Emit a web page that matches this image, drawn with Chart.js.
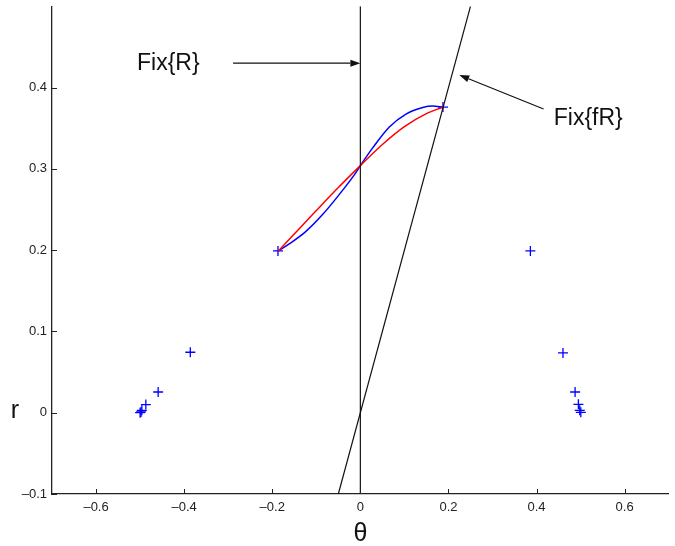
<!DOCTYPE html>
<html>
<head>
<meta charset="utf-8">
<script src="https://cdn.jsdelivr.net/npm/chart.js@4/dist/chart.umd.min.js"></script>
<style>
html,body{margin:0;padding:0;background:#fff;}
#c{display:block;}
</style>
</head>
<body>
<canvas id="c" width="675" height="546"></canvas>
<script>
// ---- data ----
const X_TICKS = [-0.6, -0.4, -0.2, 0, 0.2, 0.4, 0.6];
const Y_TICKS = [-0.1, 0, 0.1, 0.2, 0.3, 0.4];

const PLUS_THETA = [-0.187, -0.386, -0.459, -0.487, -0.496, -0.500, -0.498,
                    0.1875, 0.386, 0.460, 0.4875, 0.495, 0.498, 0.5005];
const PLUS_R     = [0.199, 0.0744, 0.0255, 0.010, 0.003, 0.000, 0.001,
                    0.376, 0.199, 0.0735, 0.0255, 0.0103, 0.003, 0.0005];

const RED_THETA = [-0.186, -0.15, -0.1, -0.05, 0, 0.05, 0.1, 0.15, 0.188];
const RED_R     = [0.199, 0.2199, 0.2487, 0.277, 0.304, 0.330, 0.352, 0.368, 0.376];

const BLUE_THETA = [-0.186, -0.1624, -0.1247, -0.0868, -0.049, -0.0113, 0, 0.028, 0.0658, 0.1036, 0.1415, 0.164, 0.188];
const BLUE_R     = [0.199, 0.2074, 0.2225, 0.2431, 0.2677, 0.2945, 0.304, 0.3258, 0.3515, 0.3674, 0.3754, 0.3772, 0.376];

const FIX_R_THETA  = [0, 0];
const FIX_R_R      = [-0.1, 0.5];
const FIX_FR_THETA = [-0.05, 0.25];
const FIX_FR_R     = [-0.1, 0.5];

const X_TITLE = 'θ';
const Y_TITLE = 'r';

// annotation labels (data-space anchors)
const NOTES = [
  { text: 'Fix{R}',  tx: -0.507, ty: 0.429, from: [-0.289, 0.430], to: [0.0, 0.430] },
  { text: 'Fix{fR}', tx: 0.439,  ty: 0.362, from: [0.416, 0.3736], to: [0.2245, 0.4155] }
];

const pts = (xs, ys) => xs.map((x, i) => ({ x: x, y: ys[i] }));

const FONT = "'Liberation Sans', Arial, Helvetica, sans-serif";
const AX = '#222';

const overlay = {
  id: 'overlay',
  afterDraw(chart) {
    const ctx = chart.ctx;
    const xs = chart.scales.x, ys = chart.scales.y;
    const a = chart.chartArea;
    ctx.save();
    // inward ticks
    ctx.strokeStyle = AX; ctx.lineWidth = 1;
    ctx.beginPath();
    X_TICKS.forEach(v => {
      const px = Math.round(xs.getPixelForValue(v)) + 0.5;
      ctx.moveTo(px, a.bottom); ctx.lineTo(px, a.bottom - 5);
    });
    Y_TICKS.forEach(v => {
      const py = Math.round(ys.getPixelForValue(v)) + 0.5;
      ctx.moveTo(a.left, py); ctx.lineTo(a.left + 5, py);
    });
    ctx.stroke();
    // axis titles
    ctx.fillStyle = '#111';
    ctx.font = '25px ' + FONT;
    ctx.textAlign = 'center'; ctx.textBaseline = 'middle';
    ctx.fillText(Y_TITLE, 15, ys.getPixelForValue(0) - 2);
    ctx.fillText(X_TITLE, xs.getPixelForValue(0), 534);
    // annotations
    ctx.font = '23px ' + FONT;
    ctx.textAlign = 'left';
    NOTES.forEach(n => {
      ctx.fillStyle = '#111';
      ctx.fillText(n.text, xs.getPixelForValue(n.tx), ys.getPixelForValue(n.ty));
      const x1 = xs.getPixelForValue(n.from[0]), y1 = ys.getPixelForValue(n.from[1]);
      const x2 = xs.getPixelForValue(n.to[0]),   y2 = ys.getPixelForValue(n.to[1]);
      const ang = Math.atan2(y2 - y1, x2 - x1);
      const L = 10, W = 3.5;
      ctx.strokeStyle = '#111'; ctx.lineWidth = 1.2;
      ctx.beginPath();
      ctx.moveTo(x1, y1);
      ctx.lineTo(x2 - L * Math.cos(ang), y2 - L * Math.sin(ang));
      ctx.stroke();
      ctx.beginPath();
      ctx.moveTo(x2, y2);
      ctx.lineTo(x2 - L * Math.cos(ang) + W * Math.sin(ang), y2 - L * Math.sin(ang) - W * Math.cos(ang));
      ctx.lineTo(x2 - L * Math.cos(ang) - W * Math.sin(ang), y2 - L * Math.sin(ang) + W * Math.cos(ang));
      ctx.closePath();
      ctx.fill();
    });
    ctx.restore();
  }
};

const fmt = v => {
  const s = (Math.round(v * 10) / 10).toString();
  return s.replace('-', '\u2013');
};

new Chart(document.getElementById('c'), {
  type: 'scatter',
  data: {
    datasets: [
      { label: 'Fix{R}', data: pts(FIX_R_THETA, FIX_R_R), showLine: true, borderColor: '#111', borderWidth: 1.2, pointRadius: 0, fill: false },
      { label: 'Fix{fR}', data: pts(FIX_FR_THETA, FIX_FR_R), showLine: true, borderColor: '#111', borderWidth: 1.2, pointRadius: 0, fill: false },
      { label: 'red', data: pts(RED_THETA, RED_R), showLine: true, borderColor: '#ff0000', borderWidth: 1.5, pointRadius: 0, cubicInterpolationMode: 'monotone', fill: false },
      { label: 'blue', data: pts(BLUE_THETA, BLUE_R), showLine: true, borderColor: '#0000ff', borderWidth: 1.5, pointRadius: 0, cubicInterpolationMode: 'monotone', fill: false },
      { label: 'points', data: pts(PLUS_THETA, PLUS_R), showLine: false, pointStyle: 'cross', pointRadius: 5, pointBorderColor: '#0000ff', pointBorderWidth: 1.3, borderColor: '#0000ff' }
    ]
  },
  options: {
    responsive: false,
    animation: false,
    layout: { padding: { top: 0, right: 6, left: 0, bottom: 0 } },
    plugins: { legend: { display: false }, tooltip: { enabled: false } },
    scales: {
      x: {
        type: 'linear', min: -0.7, max: 0.7,
        afterFit: s => { s.height = 52; },
        afterBuildTicks: s => { s.ticks = X_TICKS.map(v => ({ value: v })); },
        grid: { display: false, drawTicks: false },
        border: { display: true, color: AX, width: 1.3 },
        ticks: { callback: v => fmt(v), color: '#222', padding: 6, font: { family: FONT, size: 13 }, maxRotation: 0, autoSkip: false }
      },
      y: {
        type: 'linear', min: -0.1, max: 0.5,
        afterFit: s => { s.width = 52; s.paddingTop = 0; },
        afterBuildTicks: s => { s.ticks = Y_TICKS.map(v => ({ value: v })); },
        grid: { display: false, drawTicks: false },
        border: { display: true, color: AX, width: 1.3 },
        ticks: { callback: v => fmt(v), color: '#222', padding: 5, font: { family: FONT, size: 13 }, autoSkip: false }
      }
    }
  },
  plugins: [overlay]
});
</script>
</body>
</html>
